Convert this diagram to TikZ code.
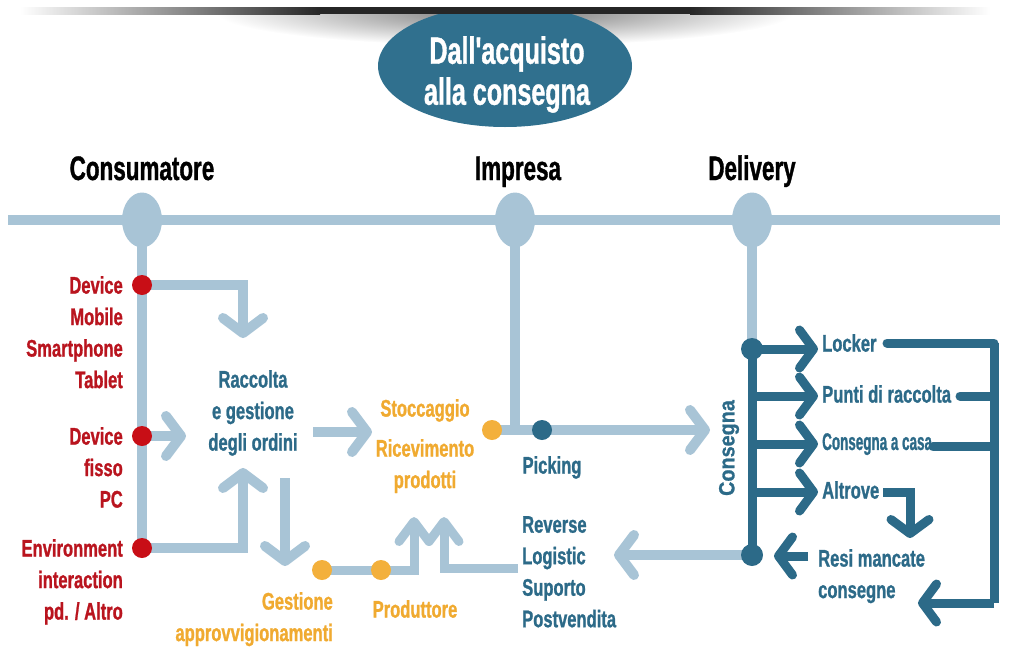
\documentclass[tikz,border=0pt]{standalone}
\usepackage{fontspec}
\usetikzlibrary{arrows.meta,shapes.geometric}
\newfontfamily\cf{Liberation Sans Bold}[FakeStretch=0.69,FakeBold=1]
\newfontfamily\cfn{Liberation Sans Bold}[FakeStretch=0.56,FakeBold=1]
\newfontfamily\cfw{Liberation Sans Bold}[FakeStretch=0.9,FakeBold=1]
\newfontfamily\hf{Liberation Sans Bold}[FakeStretch=0.66,FakeBold=1]
\definecolor{lb}{RGB}{168,196,214}
\definecolor{tl}{RGB}{44,106,136}
\definecolor{og}{RGB}{243,176,60}
\definecolor{ogt}{RGB}{240,170,48}
\definecolor{rd}{RGB}{200,14,22}
\definecolor{rdt}{RGB}{185,20,30}
\definecolor{tt}{RGB}{48,112,142}
\pgfdeclarelayer{bg}
\pgfsetlayers{bg,main}
\tikzset{
  txt/.style={inner sep=0pt, font=\cf\fontsize{24}{31.5}\selectfont},
  head/.style={inner sep=0pt, font=\hf\fontsize{34}{40}\selectfont, text=black},
  ttl/.style={inner sep=0pt, align=center, text=white, font=\hf\fontsize{38}{41}\selectfont},
  lline/.style={draw=lb, line width=10pt},
  larrow/.style={lline, -{Straight Barb[length=15pt,width=40pt,round]}},
  uparrow/.style={lline, line width=9pt, -{Straight Barb[length=20pt,width=30pt,round]}},
  dline/.style={draw=tl, line width=9pt, line cap=round},
  darrow/.style={draw=tl, line width=9pt, -{Straight Barb[length=14pt,width=38pt,round]}},
  dot/.style={circle, minimum size=20pt, inner sep=0pt, fill=#1},
  bigdot/.style={circle, minimum size=22pt, inner sep=0pt, fill=#1},
  hub/.style={ellipse, minimum width=40pt, minimum height=55pt, inner sep=0pt, fill=lb},
}
\begin{document}
\begin{tikzpicture}[x=1pt,y=-1pt]
\useasboundingbox (0,0) rectangle (1009,656);
% soft shadow under the top bar
\begin{scope}
  \clip (0,12) rectangle (1009,80);
  \shade[inner color=black!55, outer color=white] (505,12) ellipse [x radius=290, y radius=34];
\end{scope}
% title ellipse
\begin{scope}
  \clip (0,12) rectangle (1009,200);
  \fill[tt] (505,66) ellipse [x radius=127, y radius=61];
\end{scope}
% top bar
\shade[left color=white, right color=black!85] (20,7) rectangle (320,14);
\fill[black!85] (319.5,7) rectangle (690.5,14);
\shade[left color=black!85, right color=white] (690,7) rectangle (990,14);
\node[ttl, anchor=north] (title) at (507,36) {Dall'acquisto\\alla consegna};

% headings
\node[head, anchor=base] (hC) at (142,180) {Consumatore};
\node[head, anchor=base] (hI) at (518,180) {Impresa};
\node[head, anchor=base] (hD) at (752,180) {Delivery};

% hubs on the main line
\coordinate (L) at (8,220);
\coordinate (R) at (1000,220);
\node[hub] (c1) at (142,220) {};
\node[hub] (c2) at (515,220) {};
\node[hub] (c3) at (752,220) {};

% dots
\node[dot=rd] (r1) at (142,285) {};
\node[dot=rd] (r2) at (142,436) {};
\node[dot=rd] (r3) at (142,548) {};
\node[dot=og] (o1) at (322,570) {};
\node[dot=og] (o2) at (381,570) {};
\node[dot=og] (o3) at (492,430) {};
\node[dot=tl] (t1) at (542,430) {};
\node[bigdot=tl] (t2) at (752,349) {};
\node[bigdot=tl] (t3) at (752,555) {};

% texts
\node[txt, text=rdt, align=right, anchor=north east] (tDM) at (123,276) {Device\\Mobile\\Smartphone\\Tablet};
\node[txt, text=rdt, align=right, anchor=north east] (tDF) at (123,427) {Device\\fisso\\PC};
\node[txt, text=rdt, align=right, anchor=north east] (tEN) at (123,539) {Environment\\interaction\\pd. / Altro};
\node[txt, text=tl, align=center, anchor=north] (racc) at (253,370) {Raccolta\\e gestione\\degli ordini};
\node[txt, text=ogt, align=right, anchor=north east] (gest) at (333,592) {Gestione\\approvvigionamenti};
\node[txt, text=ogt, anchor=north] (stoc) at (425,399) {Stoccaggio};
\node[txt, text=ogt, align=center, anchor=north] (rice) at (425,439) {Ricevimento\\prodotti};
\node[txt, text=ogt, anchor=north] (prod) at (415,600) {Produttore};
\node[txt, text=tl, anchor=north] (pick) at (552,456) {Picking};
\node[txt, text=tl, align=left, anchor=north west] (rev) at (522,516) {Reverse\\Logistic\\Suporto\\Postvendita};
\node[txt, font=\cfw\fontsize{22}{26}\selectfont, text=tl, rotate=90] (cons) at (729,448) {Consegna};
\node[txt, text=tl, anchor=north west] (lock) at (822,334) {Locker};
\node[txt, text=tl, anchor=north west] (punt) at (822,385) {Punti di raccolta};
\node[txt, font=\cfn\fontsize{24}{31.5}\selectfont, text=tl, anchor=north west] (casa) at (822,433) {Consegna a casa};
\node[txt, text=tl, anchor=north west] (altr) at (822,481) {Altrove};
\node[txt, text=tl, align=left, anchor=north west] (resi) at (818,549) {Resi mancate\\consegne};

% connector points
\coordinate (jI) at (515,430);
\coordinate (a1) at (243,338);
\coordinate (a2) at (186,436);
\coordinate (a3) at (243,468);
\coordinate (a4s) at (313,432);
\coordinate (a4) at (372,432);
\coordinate (a5s) at (285,478);
\coordinate (a5) at (285,566);
\coordinate (a6) at (414,517);
\coordinate (a7s) at (518,568);
\coordinate (a7) at (444,517);
\coordinate (a8) at (710,430);
\coordinate (a9) at (614,555);
\coordinate (b2) at (752,396);
\coordinate (b3) at (752,444);
\coordinate (b4) at (752,492);
\coordinate (d1) at (818,349);
\coordinate (d2) at (818,396);
\coordinate (d3) at (818,444);
\coordinate (d4) at (818,492);
\coordinate (e1) at (887,343);
\coordinate (k1) at (994,343);
\coordinate (k2) at (994,603);
\coordinate (d5) at (918,603);
\coordinate (e2) at (960,396);
\coordinate (e3) at (933,446);
\coordinate (e4) at (883,492);
\coordinate (d6) at (910,538);
\coordinate (e5) at (808,556);
\coordinate (d7) at (774,556);

\begin{pgfonlayer}{bg}
  \draw[lline] (L) -- (R);
  \draw[lline] (c1.center) -- (r3.center);
  \draw[lline] (c2.center) -- (jI);
  \draw[lline] (c3.center) -- (t2.center);
  \draw[larrow] (r1.center) -| (a1);
  \draw[larrow] (r2.center) -- (a2);
  \draw[larrow] (r3.center) -| (a3);
  \draw[larrow] (a4s) -- (a4);
  \draw[larrow] (a5s) -- (a5);
  \draw[lline, line width=9pt] (o1.center) -- (o2.center);
  \draw[uparrow] (o2.center) -| (a6);
  \draw[uparrow] (a7s) -| (a7);
  \draw[lline] (o3.center) -- (t1.center);
  \draw[larrow] (t1.center) -- (a8);
  \draw[larrow] (t3.center) -- (a9);
  \draw[dline] (t2.center) -- (t3.center);
  \draw[darrow] (t2.center) -- (d1);
  \draw[darrow] (b2) -- (d2);
  \draw[darrow] (b3) -- (d3);
  \draw[darrow] (b4) -- (d4);
  \draw[dline, line cap=butt] (k1) -- (k2);
  \draw[dline, line cap=round] (e1) -- (k1);
  \draw[dline] (e2) -- (e2 -| k1);
  \draw[dline] (e3) -- (e3 -| k1);
  \draw[darrow] (k2) -- (d5);
  \draw[darrow] (e4) -| (d6);
  \draw[darrow] (e5) -- (d7);
\end{pgfonlayer}
\end{tikzpicture}
\end{document}
